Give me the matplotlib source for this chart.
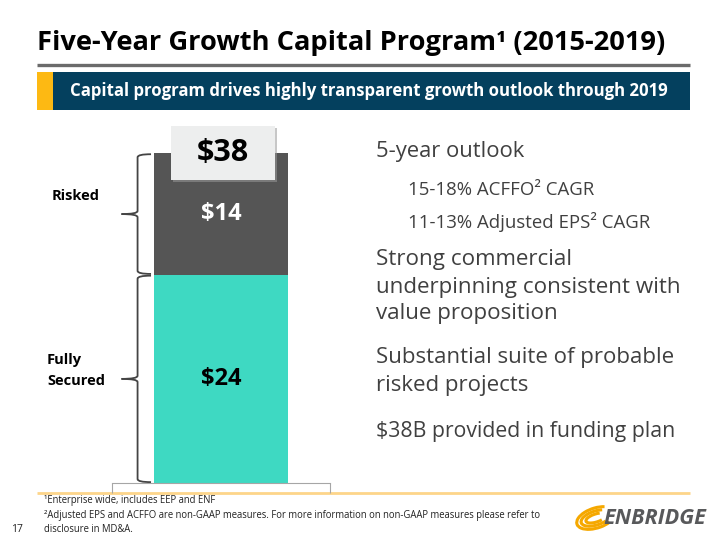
import matplotlib
matplotlib.use("Agg")
import matplotlib.pyplot as plt
from matplotlib.patches import Rectangle, Arc
from matplotlib.path import Path
from matplotlib.patches import PathPatch

plt.rcParams['font.family'] = ['Open Sans', 'DejaVu Sans']

# Data
segments = ["Fully Secured", "Risked"]
values = [24, 14]
total = sum(values)
seg_colors = ["#3ED9C2", "#555555"]
label_colors = ["#000000", "#ffffff"]

title = "Five-Year Growth Capital Program\u00b9 (2015-2019)"
banner = "Capital program drives highly transparent growth outlook through 2019"
bullets = [
    ("5-year outlook", 376, 151, 15.8),
    ("15-18% ACFFO\u00b2 CAGR", 408, 190, 13.4),
    ("11-13% Adjusted EPS\u00b2 CAGR", 408, 222, 13.4),
    ("Strong commercial", 376, 260, 16.1),
    ("underpinning consistent with", 376, 287, 16.1),
    ("value proposition", 376, 314, 16.1),
    ("Substantial suite of probable", 376, 358, 16.0),
    ("risked projects", 376, 385, 16.0),
    ("$38B provided in funding plan", 376, 432, 15.3),
]
footnotes = [
    "\u00b9Enterprise wide, includes EEP and ENF",
    "\u00b2Adjusted EPS and ACFFO are non-GAAP measures. For more information on non-GAAP measures please refer to",
    "disclosure in MD&A.",
]

W, H = 720, 540
fig = plt.figure(figsize=(7.2, 5.4), dpi=100)

# overlay in pixel coordinates
bg = fig.add_axes([0, 0, 1, 1])
bg.set_xlim(0, W)
bg.set_ylim(H, 0)
bg.axis("off")

bg.text(37, 43, title, fontsize=19.6, fontweight="bold", color="black",
        ha="left", va="center")
bg.plot([37, 690], [65, 65], color="#6b6b6b", lw=2.4, solid_capstyle="butt")
bg.add_patch(Rectangle((37, 72), 16, 38, color="#FDB913", lw=0))
bg.add_patch(Rectangle((53, 72), 637, 38, color="#04405E", lw=0))
bg.text(369, 91, banner, fontsize=12.1, fontweight="bold", color="white",
        ha="center", va="center")

for txt, x, y, fs in bullets:
    bg.text(x, y, txt, fontsize=fs, color="#404040", ha="left", va="center")

bg.text(52, 196, "Risked", fontsize=10.5, fontweight="bold", color="black",
        ha="left", va="center")
bg.text(47, 360, "Fully", fontsize=10.5, fontweight="bold", color="black",
        ha="left", va="center")
bg.text(47, 381, "Secured", fontsize=10.5, fontweight="bold", color="black",
        ha="left", va="center")

# bottom rule, footnotes, page number
bg.plot([37, 690], [493, 493], color="#FDD58A", lw=2, solid_capstyle="butt")
for i, fn in enumerate(footnotes):
    bg.text(44, 501 + i * 14.5, fn, fontsize=6.88, color="#222222",
            ha="left", va="center")
bg.text(11, 530, "17", fontsize=7.5, color="#222222", ha="left", va="center")

# logo
for w, h, a in [(40, 20, -18), (31, 14, -18), (21, 8, -18)]:
    bg.add_patch(Arc((596, 518), w, h, angle=a, theta1=35, theta2=325,
                     color="#F5A800", lw=2.2))
bg.text(603, 519, "ENBRIDGE", fontsize=15.6, fontweight="bold", style="italic",
        color="#58595B", ha="left", va="center")

# bar chart
ax = fig.add_axes([112 / W, 1 - 483 / H, 218 / W, 347 / H])
bottom = 0
for seg, v, c, lc in zip(segments, values, seg_colors, label_colors):
    ax.bar(0, v, width=1.0, bottom=bottom, color=c, zorder=2)
    ax.text(0, bottom + v / 2, "$%d" % v, fontsize=17, fontweight="bold",
            color=lc, ha="center", va="center", zorder=3)
    bottom += v
ax.set_xlim(-0.81, 0.81)
ax.set_ylim(0, 40)
for s in ["top", "left", "right"]:
    ax.spines[s].set_visible(False)
ax.spines["bottom"].set_color("#A6A6A6")
ax.set_yticks([])
ax.set_xticks([-0.81, 0.81])
ax.set_xticklabels([])
ax.tick_params(axis="x", direction="out", length=7, color="#A6A6A6")
ax.patch.set_alpha(0)

# total label box with soft shadow
ax.add_patch(Rectangle((-0.355, total - 3.25), 0.77, 6.2, color="#9A9A9A",
                       lw=0, zorder=3, clip_on=False, alpha=0.55))
ax.add_patch(Rectangle((-0.37, total - 3.1), 0.77, 6.2, color="#EDEEEE",
                       lw=0, zorder=4, clip_on=False))
ax.text(0.015, total + 0.05, "$%d" % total, fontsize=22, fontweight="bold",
        color="black", ha="center", va="center", zorder=5)

# braces
def brace(y0, y1, x_end=-0.52, x_mid=-0.62, x_tip=-0.74):
    ym = (y0 + y1) / 2
    r = 0.35
    verts = [(x_end, y1), (x_mid, y1), (x_mid, y1 - r), (x_mid, ym + r),
             (x_mid, ym), (x_tip, ym)]
    verts2 = [(x_end, y0), (x_mid, y0), (x_mid, y0 + r), (x_mid, ym - r),
              (x_mid, ym), (x_tip, ym)]
    for vs in (verts, verts2):
        codes = [Path.MOVETO, Path.CURVE3, Path.CURVE3, Path.LINETO,
                 Path.CURVE3, Path.CURVE3]
        ax.add_patch(PathPatch(Path(vs, codes), fill=False, ec="#444444",
                               lw=1.3, clip_on=False))

brace(0.1, values[0] - 0.1)
brace(values[0] + 0.1, total - 0.1)

fig.savefig("out.png", dpi=100)
